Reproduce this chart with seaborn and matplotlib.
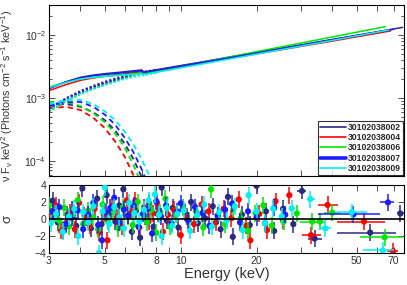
import numpy as np
import pandas as pd
import seaborn as sns
import matplotlib
matplotlib.use('Agg')
import matplotlib.pyplot as plt
from matplotlib.ticker import FixedLocator, FixedFormatter, NullFormatter, LogLocator
from matplotlib.lines import Line2D

#observation ids and colours
obs_ids = ['30102038002', '30102038004', '30102038006', '30102038007', '30102038009']
colors = ['#2a2a80', '#ff0000', '#00e600', '#1c1cff', '#00f0f0']

#total model (solid), energies in keV
e_tot = [3.0, 3.5, 4.0, 4.5, 5.0, 6.0, 7.0, 7.1, 7.2, 10, 20, 40]
tot_002 = [1.40e-3, 1.80e-3, 2.12e-3, 2.30e-3, 2.42e-3, 2.60e-3, 2.78e-3, 2.60e-3, 2.60e-3, 3.26e-3, 5.25e-3, 8.5e-3]
tot_004 = [1.30e-3, 1.62e-3, 1.90e-3, 2.07e-3, 2.20e-3, 2.40e-3, 2.60e-3, 2.50e-3, 2.50e-3, 3.13e-3, 5.0e-3, 8.0e-3]
tot_006 = [1.48e-3, 1.78e-3, 2.00e-3, 2.12e-3, 2.20e-3, 2.35e-3, 2.50e-3, 2.45e-3, 2.45e-3, 3.17e-3, 5.43e-3, 9.3e-3]
tot_007 = [1.42e-3, 1.78e-3, 2.08e-3, 2.25e-3, 2.35e-3, 2.52e-3, 2.70e-3, 2.55e-3, 2.55e-3, 3.20e-3, 5.15e-3, 8.4e-3]
tot_009 = [1.45e-3, 1.75e-3, 2.00e-3, 2.12e-3, 2.20e-3, 2.30e-3, 2.40e-3, 2.35e-3, 2.35e-3, 2.99e-3, 4.96e-3, 8.2e-3]
e_end = [76, 68, 65, 70, 67]
f_end = [1.32e-2, 1.16e-2, 1.36e-2, 1.23e-2, 1.20e-2]

#absorbed power law component (dotted)
e_pl = [3.0, 3.5, 4.0, 4.5, 5.0, 6.0, 7.0, 7.1, 7.5, 8.0]
pl_002 = [6.8e-4, 9.8e-4, 1.28e-3, 1.55e-3, 1.80e-3, 2.25e-3, 2.70e-3, 2.58e-3, 2.68e-3, 2.78e-3]
pl_004 = [6.5e-4, 9.3e-4, 1.20e-3, 1.45e-3, 1.68e-3, 2.10e-3, 2.55e-3, 2.48e-3, 2.57e-3, 2.67e-3]
pl_006 = [6.0e-4, 8.8e-4, 1.15e-3, 1.40e-3, 1.65e-3, 2.08e-3, 2.45e-3, 2.43e-3, 2.53e-3, 2.65e-3]
pl_007 = [6.7e-4, 9.6e-4, 1.24e-3, 1.50e-3, 1.74e-3, 2.17e-3, 2.60e-3, 2.53e-3, 2.62e-3, 2.72e-3]
pl_009 = [6.3e-4, 9.0e-4, 1.15e-3, 1.38e-3, 1.60e-3, 2.00e-3, 2.30e-3, 2.28e-3, 2.38e-3, 2.48e-3]

#blackbody component (dashed)
e_bb = [3.0, 3.5, 4.0, 4.5, 5.0, 5.5, 6.0, 6.5, 7.0, 7.5, 8.0]
bb_002 = [7.4e-4, 8.0e-4, 7.2e-4, 5.9e-4, 4.4e-4, 3.0e-4, 1.85e-4, 1.05e-4, 5.5e-5, 2.7e-5, 1.2e-5]
bb_004 = [6.8e-4, 7.2e-4, 6.4e-4, 4.8e-4, 3.3e-4, 2.0e-4, 1.15e-4, 5.8e-5, 2.6e-5, 1.1e-5, 4e-6]
bb_006 = [8.6e-4, 8.6e-4, 7.4e-4, 5.7e-4, 4.1e-4, 2.7e-4, 1.6e-4, 8.5e-5, 4.2e-5, 1.9e-5, 8e-6]
bb_007 = [7.6e-4, 8.5e-4, 8.6e-4, 7.2e-4, 5.4e-4, 3.7e-4, 2.3e-4, 1.35e-4, 7.3e-5, 3.7e-5, 1.8e-5]
bb_009 = [7.9e-4, 9.2e-4, 9.3e-4, 7.9e-4, 6.1e-4, 4.4e-4, 2.9e-4, 1.8e-4, 1.05e-4, 5.8e-5, 3.0e-5]

#residuals (sigma), low energy bins
res_e_002 = [3.1, 3.25, 3.4, 3.55, 3.7, 3.85, 4.07, 4.2, 4.4, 4.66, 4.85, 5.08, 5.3, 5.5, 5.7, 5.92, 6.15, 6.4, 6.65, 6.9, 7.2, 7.5, 7.8, 8.1, 8.4, 8.8, 9.3, 9.8, 10.4, 11.0, 11.7, 12.5, 13.4, 14.4, 15.4, 16.1, 17.5, 18.8, 20.0, 21.8, 23.5, 25.5, 28.0]
res_002 = [2.15, -0.4, -1.3, 0.5, 1.1, -0.8, 3.6, 0.2, -1.1, 2.4, -0.6, 2.8, 0.9, -0.3, 1.6, 3.5, 0.4, -1.5, 1.0, -2.2, 0.3, 1.8, -0.9, 0.6, 3.7, -0.2, 1.3, -1.0, 0.8, 2.0, -0.5, 0.1, 1.5, -1.2, 2.6, -2.1, 0.5, -0.7, 3.9, 0.9, -1.4, 1.2, -0.6]
res_e_004 = [3.05, 3.2, 3.35, 3.5, 3.65, 3.8, 3.95, 4.15, 4.35, 4.55, 4.75, 4.95, 5.12, 5.35, 5.6, 5.85, 6.1, 6.35, 6.6, 6.85, 7.15, 7.45, 7.75, 8.05, 8.5, 8.9, 9.4, 10.0, 10.6, 11.3, 12.1, 12.9, 13.8, 14.8, 15.9, 17.0, 18.2, 18.9, 20.5, 22.0, 23.8, 25.5, 27.0]
res_004 = [0.3, 1.6, -1.4, -0.5, 0.8, -1.2, 1.9, 0.4, -0.8, 1.2, -1.6, 0.6, -2.5, 1.5, 0.2, -0.9, 2.2, 0.9, 2.15, -1.0, 1.4, -0.3, 0.7, 1.9, -1.5, 0.5, 1.1, -1.9, 0.3, -0.6, 1.7, 0.9, -0.4, 1.2, 0.1, 2.3, -0.8, -2.5, 0.6, -1.3, 2.1, -0.2, 2.8]
res_e_006 = [3.0, 3.15, 3.3, 3.45, 3.6, 3.75, 3.9, 4.1, 4.3, 4.5, 4.7, 4.9, 5.15, 5.4, 5.65, 5.9, 6.2, 6.45, 6.75, 7.05, 7.35, 7.65, 8.0, 8.3, 8.7, 9.1, 9.6, 10.2, 10.8, 11.5, 12.3, 13.2, 14.1, 15.0, 16.2, 17.3, 18.5, 19.8, 21.3, 23.0, 25.6, 28.9]
res_006 = [1.6, 0.7, -0.2, 1.3, -0.9, 0.4, 2.2, -0.6, 1.0, 0.2, -1.2, 1.7, -0.3, 0.9, -1.1, 1.4, 0.3, -0.7, 2.0, 0.6, -0.4, 1.1, -1.6, 0.8, 2.4, -0.9, 0.5, 1.3, -0.2, 0.9, -1.0, 3.5, 0.4, -0.6, 1.2, 0.1, -1.4, 0.7, 1.6, -0.8, -0.3, 0.65]
res_e_007 = [3.1, 3.3, 3.5, 3.7, 3.9, 4.1, 4.3, 4.5, 4.7, 4.87, 5.05, 5.25, 5.45, 5.7, 5.95, 6.2, 6.5, 6.8, 7.1, 7.4, 7.7, 8.0, 8.35, 8.75, 9.2, 9.7, 10.0, 10.7, 11.4, 12.2, 13.0, 14.0, 15.0, 16.0, 17.2, 18.5, 20.0, 21.6, 23.5, 26.0]
res_007 = [0.9, 1.4, -0.6, 0.2, 1.0, -1.2, 0.5, 1.9, -0.7, -2.5, 0.8, 1.3, 2.5, -0.4, 1.1, 0.4, 1.6, -0.9, 0.6, 1.2, -1.7, 2.1, 0.3, 1.6, -0.5, 0.9, 1.85, -0.2, 1.4, 0.7, -0.8, 0.4, 1.1, 1.8, -0.4, 0.9, 0.2, -0.5, 1.3, 0.5]
res_e_009 = [3.05, 3.2, 3.4, 3.6, 3.78, 3.92, 4.1, 4.3, 4.5, 4.74, 4.9, 5.0, 5.2, 5.45, 5.7, 5.95, 6.25, 6.55, 6.85, 7.15, 7.45, 7.9, 8.2, 8.4, 8.8, 9.25, 9.7, 10.3, 10.9, 11.6, 12.4, 13.3, 14.2, 15.2, 16.4, 17.6, 18.6, 20.0, 21.6, 23.3, 25.2, 27.6]
res_009 = [-0.5, 0.6, -1.5, 0.3, 1.2, -2.0, 0.8, -0.4, 1.5, -4.0, 0.9, 3.7, -0.6, 1.4, 0.2, -1.1, 1.9, 0.7, -0.3, 1.1, 2.2, 2.9, 0.5, -2.0, 1.3, -0.8, 0.6, 1.0, -1.4, 0.4, 1.7, -0.9, 0.8, -0.2, 1.5, -1.3, 2.8, 0.9, -0.5, 1.2, 0.3, 1.25]

#residuals, wide high energy bins (centre, value, bin edges)
hi_e_002 = [30.3, 34.0, 56.5, 74.5]
hi_r_002 = [3.3, -2.3, -1.6, 0.65]
hi_lo_002 = [29.0, 32.0, 41.6, 72.0]
hi_hi_002 = [31.5, 36.5, 71.4, 77.0]
hi_e_004 = [32.9, 38.3, 53.4, 69.7]
hi_r_004 = [-1.9, 1.65, -0.3, -3.8]
hi_lo_004 = [30.3, 35.0, 41.6, 66.0]
hi_hi_004 = [36.2, 42.0, 64.5, 73.0]
hi_e_006 = [33.3, 35.7, 40.0, 64.5]
hi_r_006 = [-0.3, -0.3, 0.75, -2.15]
hi_lo_006 = [29.8, 34.0, 37.0, 51.4]
hi_hi_006 = [34.4, 37.5, 43.0, 76.0]
hi_e_007 = [48.5, 66.5]
hi_r_007 = [0.55, 1.95]
hi_lo_007 = [35.0, 62.0]
hi_hi_007 = [62.0, 70.5]
hi_e_009 = [32.7, 37.5, 47.8, 63.4]
hi_r_009 = [2.35, -1.1, 0.8, -3.7]
hi_lo_009 = [31.6, 35.5, 41.6, 53.0]
hi_hi_009 = [34.1, 39.5, 55.0, 70.0]

tot_all = [tot_002, tot_004, tot_006, tot_007, tot_009]
pl_all = [pl_002, pl_004, pl_006, pl_007, pl_009]
bb_all = [bb_002, bb_004, bb_006, bb_007, bb_009]
res_e_all = [res_e_002, res_e_004, res_e_006, res_e_007, res_e_009]
res_all = [res_002, res_004, res_006, res_007, res_009]
hi_e_all = [hi_e_002, hi_e_004, hi_e_006, hi_e_007, hi_e_009]
hi_r_all = [hi_r_002, hi_r_004, hi_r_006, hi_r_007, hi_r_009]
hi_lo_all = [hi_lo_002, hi_lo_004, hi_lo_006, hi_lo_007, hi_lo_009]
hi_hi_all = [hi_hi_002, hi_hi_004, hi_hi_006, hi_hi_007, hi_hi_009]

sns.set_style('ticks')
plt.rcParams['font.family'] = ['Liberation Sans', 'DejaVu Sans']
plt.rcParams['mathtext.default'] = 'regular'
plt.rcParams['xtick.direction'] = 'in'
plt.rcParams['ytick.direction'] = 'in'

fig = plt.figure(figsize=(4.07, 2.85), dpi=100)
ax1 = fig.add_axes([49/407, 1-176/285, 355/407, 171/285])
ax2 = fig.add_axes([49/407, 1-253/285, 355/407, 68/285])

#top panel: models
for i in range(5):
    c = colors[i]
    sns.lineplot(x=e_pl, y=pl_all[i], ax=ax1, color=c, lw=1.5,
                 linestyle=(0, (1, 1)), sort=False, estimator=None)
    sns.lineplot(x=e_bb, y=bb_all[i], ax=ax1, color=c, lw=1.3,
                 linestyle=(0, (3, 2.2)), sort=False, estimator=None)
for i in range(5):
    sns.lineplot(x=e_tot + [e_end[i]], y=tot_all[i] + [f_end[i]], ax=ax1,
                 color=colors[i], lw=1.1, sort=False, estimator=None)

ax1.set_xscale('log')
ax1.set_yscale('log')
ax1.set_xlim(3, 77)
ax1.set_ylim(5.7e-5, 3e-2)

#bottom panel: residuals
for i in range(5):
    c = colors[i]
    e = np.array(res_e_all[i])
    ax2.errorbar(e, res_all[i], yerr=1, xerr=0.02 * e, fmt='none',
                 ecolor=c, elinewidth=1.1, zorder=2 + i)
    he = np.array(hi_e_all[i])
    xerr = [he - np.array(hi_lo_all[i]), np.array(hi_hi_all[i]) - he]
    ax2.errorbar(he, hi_r_all[i], yerr=1, xerr=xerr, fmt='none',
                 ecolor=c, elinewidth=1.1, zorder=2 + i)
    pts = pd.DataFrame({'E': list(e) + list(he), 'r': res_all[i] + hi_r_all[i]})
    sns.scatterplot(data=pts, x='E', y='r', ax=ax2, color=c, s=20,
                    edgecolor='none', zorder=2.5 + i)
ax2.axhline(0, color='black', lw=1.2, zorder=20)
ax2.set_xscale('log')
ax2.set_xlim(3, 77)
ax2.set_ylim(-4, 4)

#ticks
xt = [3, 4, 5, 6, 7, 8, 9, 10, 20, 30, 40, 50, 60, 70]
xl = ['3', '', '5', '', '', '8', '', '10', '20', '', '', '50', '', '70']
for ax in (ax1, ax2):
    ax.xaxis.set_major_locator(FixedLocator(xt))
    ax.xaxis.set_minor_locator(FixedLocator([]))
    ax.tick_params(which='both', top=True, right=True, direction='in',
                   labelsize=7.5, width=0.6, pad=2, colors='#333333', labelcolor='#333333')
    ax.tick_params(which='major', length=4)
    ax.tick_params(which='minor', length=2)
    for s in ax.spines.values():
        s.set_linewidth(0.8)
        s.set_color('black')
ax1.xaxis.set_major_formatter(NullFormatter())
ax2.xaxis.set_major_formatter(FixedFormatter(xl))
ax1.yaxis.set_major_locator(LogLocator(base=10, numticks=10))
ax1.yaxis.set_minor_locator(LogLocator(base=10, subs=np.arange(2, 10), numticks=20))
ax1.yaxis.set_minor_formatter(NullFormatter())
ax2.set_yticks([-4, -2, 0, 2, 4])

ax1.set_xlabel('')
ax1.set_ylabel(r'$\nu$ F$_\nu$ keV$^2$ (Photons cm$^{-2}$ s$^{-1}$ keV$^{-1}$)',
               fontsize=7.8, color='#333333')
ax1.yaxis.set_label_coords(-0.095, 0.47)
ax2.set_ylabel(r'$\sigma$', fontsize=9.5, color='#333333')
ax2.yaxis.set_label_coords(-0.098, 0.5)
ax2.set_xlabel('Energy (keV)', fontsize=10.5, labelpad=1, color='#333333')

#legend
handles = [Line2D([], [], color=colors[i], lw=(2.6 if i == 3 else 1.2)) for i in range(5)]
leg = ax1.legend(handles, obs_ids, loc='lower right',
                 prop={'weight': 'bold', 'size': 6.2}, frameon=True, fancybox=False,
                 handlelength=3.0, handletextpad=0.2, borderpad=0.25,
                 labelspacing=0.12, borderaxespad=0.15)
leg.get_frame().set_edgecolor('black')
leg.get_frame().set_linewidth(0.8)

fig.savefig('out.png', dpi=100)
